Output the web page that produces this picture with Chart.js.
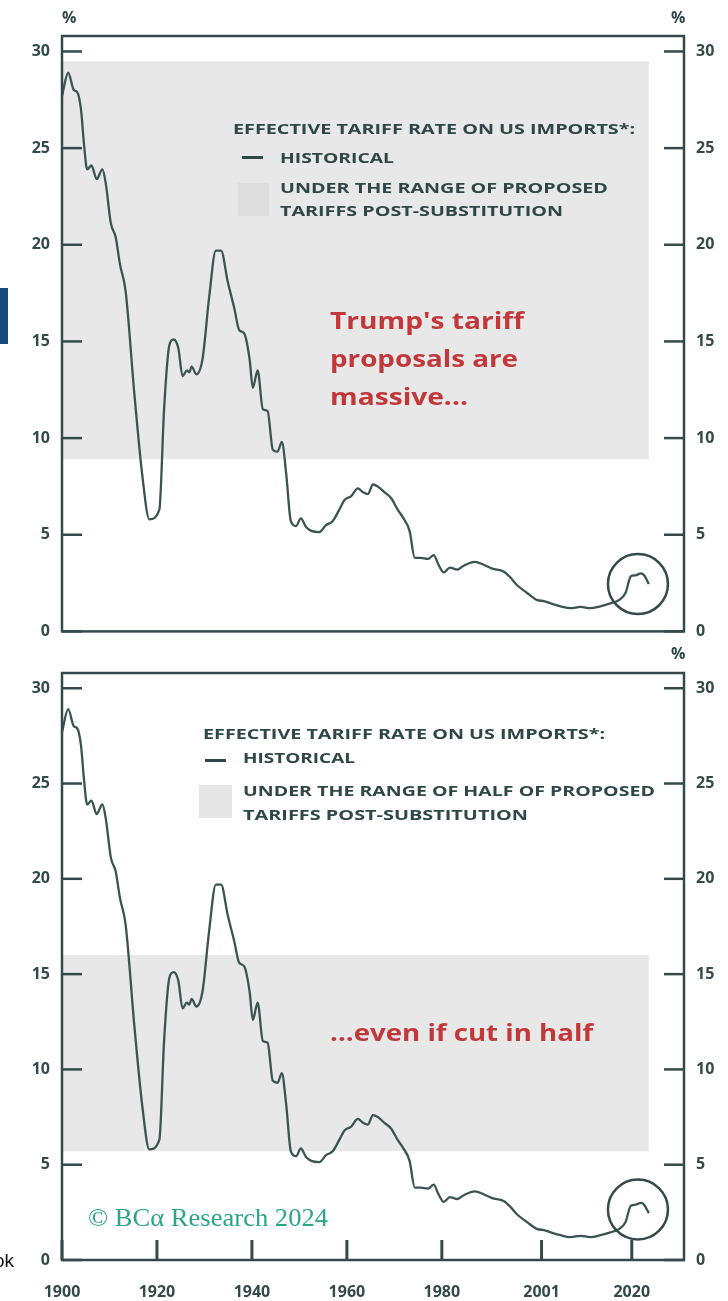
<!DOCTYPE html>
<html>
<head>
<meta charset="utf-8">
<title>Effective tariff rate on US imports</title>
<script src="https://cdn.jsdelivr.net/npm/chart.js"></script>
<style>
  body { margin: 0; width: 728px; height: 1301px; background: #fff; position: relative; overflow: hidden; font-family: "Open Sans", sans-serif; }
  .panel { position: absolute; left: 0; }
  .txt { position: absolute; white-space: nowrap; color: #2f4747; font-weight: 700; font-size: 15px; line-height: 20px; z-index: 2; transform-origin: 0 50%; }
  .red { color: #c2383a; font-size: 24px; line-height: 30px; }
  .dash { position: absolute; height: 2.5px; background: #2f4747; z-index: 2; }
  .swatch { position: absolute; z-index: 2; }
</style>
</head>
<body>

<div class="panel" style="top:0"><canvas id="topChart" width="728" height="653"></canvas></div>
<div class="panel" style="top:645px"><canvas id="bottomChart" width="728" height="656"></canvas></div>

<!-- axis unit marks -->
<div class="txt" style="left:62px;top:7px;font-size:16px">%</div>
<div class="txt" style="left:671px;top:7px;font-size:16px">%</div>
<div class="txt" style="left:671px;top:643px;font-size:16px">%</div>

<!-- upper legend -->
<div class="txt" data-w="402" style="left:233px;top:118px">EFFECTIVE TARIFF RATE ON US IMPORTS*:</div>
<div class="dash" style="left:242px;top:156px;width:21px"></div>
<div class="txt" data-w="114" style="left:280px;top:147px">HISTORICAL</div>
<div class="swatch" style="left:238px;top:183px;width:31px;height:33px;background:#dedede"></div>
<div class="txt" data-w="328" style="left:280px;top:177px">UNDER THE RANGE OF PROPOSED</div>
<div class="txt" data-w="283" style="left:280px;top:200px">TARIFFS POST-SUBSTITUTION</div>

<div class="txt red" data-w="194" style="left:330px;top:305px">Trump's tariff</div>
<div class="txt red" data-w="188" style="left:330px;top:343px">proposals are</div>
<div class="txt red" data-w="138" style="left:330px;top:381px">massive...</div>

<!-- lower legend -->
<div class="txt" data-w="402" style="left:203px;top:723px">EFFECTIVE TARIFF RATE ON US IMPORTS*:</div>
<div class="dash" style="left:205px;top:759px;width:21px"></div>
<div class="txt" data-w="112" style="left:243px;top:747px">HISTORICAL</div>
<div class="swatch" style="left:199px;top:785px;width:33px;height:33px;background:#e6e6e6"></div>
<div class="txt" data-w="412" style="left:243px;top:780px">UNDER THE RANGE OF HALF OF PROPOSED</div>
<div class="txt" data-w="285" style="left:243px;top:804px">TARIFFS POST-SUBSTITUTION</div>

<div class="txt red" data-w="263" style="left:330px;top:1017px">...even if cut in half</div>

<div class="txt" data-w="240" style="left:88px;top:1202px;font-family:'Liberation Serif',serif;font-weight:400;font-size:26px;line-height:32px;color:#2aa587">© BCα Research 2024</div>

<div style="position:absolute;left:0;top:288px;width:8px;height:56px;background:#174a7c"></div>
<div style="position:absolute;left:-6px;top:1250px;font-family:'Liberation Sans',sans-serif;font-size:19px;line-height:22px;color:#111">ok</div>

<script>
// effective tariff rate, %
const years = [1900, 1901.3, 1902.5, 1903.2, 1904, 1904.6, 1905.3, 1906.2, 1907.3, 1908.5,
  1909.2, 1910.3, 1911.3, 1912.2, 1913.4, 1915.2, 1916.9, 1918.4, 1920.5, 1921.5,
  1922.6, 1923.5, 1924.5, 1925.4, 1926.3, 1926.8, 1927.3, 1928.3, 1929.6, 1931,
  1932.4, 1933.5, 1934.9, 1936.3, 1937.3, 1938.4, 1939.5, 1940.2, 1941.2, 1942.3,
  1943.3, 1944.4, 1945.4, 1946.3, 1947.2, 1948.2, 1949.3, 1950.3, 1951.4, 1952.5,
  1954.2, 1955.6, 1957, 1958.4, 1959.5, 1960.9, 1962.3, 1963.4, 1964.4, 1965.5,
  1966.5, 1967.9, 1969.3, 1970.7, 1971.8, 1973.2, 1974.3, 1975.5, 1977.1, 1978.3,
  1979.2, 1980.4, 1981.7, 1983.3, 1984.6, 1987, 1988.8, 1990.6, 1993, 1994.4,
  1995.8, 1997.9, 2000.1, 2001.5, 2002.9, 2005, 2007.1, 2009.2, 2011.3, 2013.4,
  2015.5, 2017.3, 2018.7, 2019.8, 2020.8, 2021.9, 2022.6, 2023.6];
const rates = [27.7, 28.9, 28.0, 27.9, 27.0, 25.3, 23.9, 24.1, 23.4, 23.9,
  23.2, 21.1, 20.4, 19.0, 17.6, 12.4, 8.1, 5.8, 6.3, 11.5,
  14.8, 15.1, 14.65, 13.2, 13.5, 13.4, 13.7, 13.3, 14.1, 17.3,
  19.7, 19.7, 18.1, 16.7, 15.6, 15.4, 14.1, 12.6, 13.5, 11.5,
  11.4, 9.4, 9.3, 9.8, 8.2, 5.7, 5.45, 5.85, 5.4, 5.2,
  5.14, 5.5, 5.7, 6.3, 6.8, 7.0, 7.4, 7.2, 7.1, 7.6,
  7.5, 7.2, 6.9, 6.3, 5.9, 5.2, 3.8, 3.8, 3.75, 3.95,
  3.5, 3.05, 3.3, 3.2, 3.4, 3.6, 3.45, 3.25, 3.1, 2.8,
  2.4, 2.0, 1.62, 1.57, 1.45, 1.3, 1.2, 1.27, 1.2, 1.3,
  1.45, 1.62, 2.0, 2.85, 2.9, 3.0, 2.9, 2.45];

const yTicks = [0, 5, 10, 15, 20, 25, 30];
const xTicks = [1900, 1920, 1940, 1960, 1980, 2001, 2020];

// shaded ranges: [low, high] and the years they cover
const bandYears = [1900, 2023.6];
const fullRange = [8.9, 29.5];
const halfRange = [5.7, 16.0];

// ring around the latest readings
const ringYear = 2021.3;
const ringTop = 2.45;
const ringBottom = 2.65;

const ink = '#344a4a';

// stretch the overlay labels to their set widths
document.querySelectorAll('[data-w]').forEach(function (el) {
  const k = +el.dataset.w / el.getBoundingClientRect().width;
  el.style.transform = 'scaleX(' + k.toFixed(3) + ')';
});

// box, inner ticks and ring
const frame = {
  id: 'frame',
  afterDatasetsDraw(chart, args, opts) {
    const ctx = chart.ctx, a = chart.chartArea, s = chart.scales;
    function seg(x1, y1, x2, y2) { ctx.beginPath(); ctx.moveTo(x1, y1); ctx.lineTo(x2, y2); ctx.stroke(); }
    ctx.save();
    ctx.strokeStyle = ink;
    ctx.lineWidth = 2.5;
    ctx.strokeRect(a.left, a.top, a.right - a.left, a.bottom - a.top);
    yTicks.forEach(function (v) {
      const y = s.y.getPixelForValue(v);
      seg(a.left, y, a.left + 20, y);
      seg(a.right - 20, y, a.right, y);
    });
    if (opts.xMarks) {
      ctx.lineWidth = 3;
      xTicks.forEach(function (v) {
        const x = s.x.getPixelForValue(v);
        seg(x, a.bottom, x, a.bottom - 20);
      });
    }
    ctx.lineWidth = 2.5;
    ctx.beginPath();
    ctx.arc(s.x.getPixelForValue(ringYear), s.y.getPixelForValue(opts.ring), 30, 0, Math.PI * 2);
    ctx.stroke();
    ctx.restore();
  }
};

const tickFont = { family: 'Open Sans', weight: '700', size: 16 };

function yAxis(pos, w) {
  return {
    position: pos, min: 0, max: 30.8,
    grid: { display: false, drawTicks: false }, border: { display: false },
    afterBuildTicks: function (sc) { sc.ticks = yTicks.map(function (v) { return { value: v }; }); },
    afterFit: function (sc) { sc.width = w; },
    ticks: { padding: 12, color: ink, font: tickFont }
  };
}

// the upper panel keeps a blank strip under its box instead of year labels
function makeChart(id, range, ring, showYears, padTop, stripHeight) {
  return new Chart(document.getElementById(id), {
    type: 'line',
    data: {
      datasets: [{
        data: years.map(function (x, i) { return { x: x, y: rates[i] }; }),
        borderColor: '#3a5452', borderWidth: 2.3, pointRadius: 0, fill: false,
        cubicInterpolationMode: 'monotone'
      }, {
        data: bandYears.map(function (x) { return { x: x, y: range[1] }; }),
        borderWidth: 0, pointRadius: 0, backgroundColor: '#e8e8e8',
        fill: { value: range[0] }
      }]
    },
    options: {
      responsive: false, animation: false, devicePixelRatio: 1,
      layout: { padding: { top: padTop, bottom: 0, left: 0, right: 0 } },
      plugins: { legend: { display: false }, tooltip: { enabled: false }, frame: { ring: ring, xMarks: showYears } },
      scales: {
        x: {
          type: 'linear', min: 1900, max: 2031,
          grid: { display: false, drawTicks: false }, border: { display: false },
          afterBuildTicks: function (sc) { sc.ticks = xTicks.map(function (v) { return { value: v }; }); },
          afterFit: function (sc) { sc.height = stripHeight; },
          ticks: { display: showYears, padding: 23, color: ink, font: tickFont, maxRotation: 0, callback: function (v) { return String(v); } }
        },
        y: yAxis('left', 62),
        y2: yAxis('right', 44)
      }
    },
    plugins: [frame]
  });
}

makeChart('topChart', fullRange, ringTop, false, 36, 15);
makeChart('bottomChart', halfRange, ringBottom, true, 28, 41);
</script>
</body>
</html>
